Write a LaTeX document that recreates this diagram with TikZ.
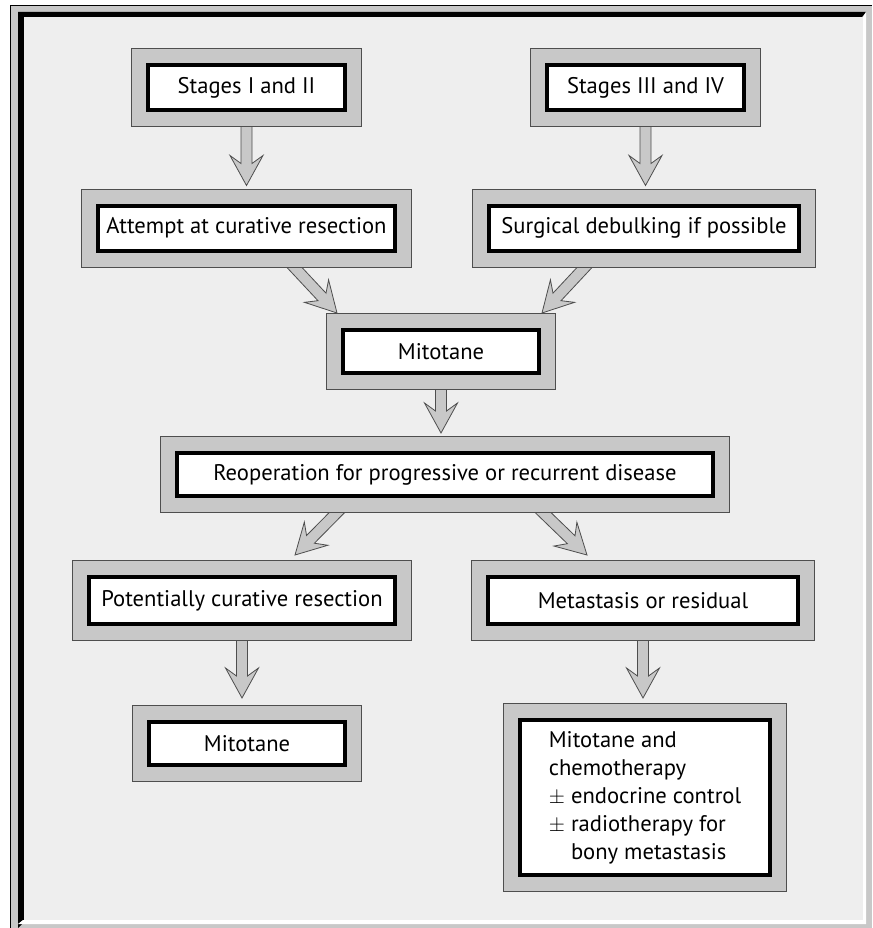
\documentclass[tikz,border=0pt]{standalone}
\usepackage{fontspec}
\usetikzlibrary{calc}
\newfontfamily\boxfont{PT Sans}
\definecolor{panelgray}{HTML}{EEEEEE}
\definecolor{boxgray}{HTML}{C8C8C8}
\definecolor{edgegray}{HTML}{4E4E4E}
\pgfdeclarelayer{back}
\pgfdeclarelayer{arrows}
\pgfsetlayers{back,arrows,main}

% block arrow from #1 to the tip #2
\newcommand{\flowarrow}[2]{%
  \coordinate (fa-s) at ($(#1)!-10pt!(#2)$);
  \coordinate (fa-j) at ($(#2)!22pt!(#1)$);
  \coordinate (fa-w) at ($(#2)!30pt!(#1)$);
  \draw[arrowbody] ($(fa-s)!5.5pt!90:(#2)$) -- ($(fa-j)!5.5pt!-90:(#1)$)
    -- ($(fa-w)!16.5pt!-90:(#1)$) -- (#2) -- ($(fa-w)!16.5pt!90:(#1)$)
    -- ($(fa-j)!5.5pt!90:(#1)$) -- ($(fa-s)!5.5pt!-90:(#2)$) -- cycle;
}

\begin{document}
\begin{tikzpicture}[x=1pt,y=-1pt,
    stagebox/.style={draw=black, line width=4pt, fill=white,
      minimum height=45pt, inner sep=0pt, outer sep=17pt,
      font=\boxfont\fontsize{22.6}{28}\selectfont,
      preaction={draw=edgegray, line width=34pt},
      preaction={draw=boxgray, line width=32pt}},
    arrowbody/.style={draw=edgegray, fill=boxgray, line width=0.8pt, line join=miter}]
  \useasboundingbox (0,0) rectangle (872,928);

  % frame
  \begin{pgfonlayer}{back}
    \fill[white] (0,0) rectangle (872,928);
    \fill[boxgray] (10,6) rectangle (872,928);
    \draw[black, line width=1pt] (10,928) -- (10,6) -- (872,6);
    \fill[black] (18,12) -- (866,12) -- (862,17) -- (24,17) -- (24,922) -- (18,928) -- cycle;
    \fill[white] (866,12) -- (866,924) -- (18,924) -- (23,920) -- (863,920) -- (863,17) -- cycle;
    \fill[panelgray] (24,17) rectangle (863,920);
  \end{pgfonlayer}

  \node[stagebox, minimum width=197pt] (early) at (246.5,87.5) {Stages I and II};
  \node[stagebox, minimum width=197pt] (late) at (645.5,87.5) {Stages III and IV};
  \node[stagebox, minimum width=297pt] (curative) at (246.5,228) {Attempt at curative resection};
  \node[stagebox, minimum width=310pt] (debulk) at (644,228) {Surgical debulking if possible};
  \node[stagebox, minimum width=196pt, minimum height=43pt] (mitoA) at (441,351.5) {Mitotane};
  \node[stagebox, minimum width=536pt, minimum height=43pt] (reop) at (445,474.5)
    {Reoperation for progressive or recurrent disease};
  \node[stagebox, minimum width=306pt, minimum height=47pt] (potential) at (242,600.5)
    {Potentially curative resection};
  \node[stagebox, minimum width=310pt, minimum height=47pt] (residual) at (643,600.5)
    {Metastasis or residual};
  \node[stagebox, minimum width=196pt, minimum height=43pt] (mitoB) at (247,743.5) {Mitotane};
  \node[stagebox, minimum width=250pt, minimum height=155pt, align=left] (combined) at (645,797.5)
    {Mitotane and\\chemotherapy\\$\pm$ endocrine control\\$\pm$ radiotherapy for\\\phantom{$\pm$ }bony metastasis};

  % arrow ends
  \coordinate (earlytip) at ($(early.south |- curative.north)+(0,-3)$);
  \coordinate (latetip) at ($(late.south |- debulk.north)+(0,-3)$);
  \coordinate (curtail) at ($(curative.south)+(48,0)$);
  \coordinate (curtip) at ($(mitoA.north west)+(11,0)$);
  \coordinate (debtail) at ($(debulk.south)+(-59.5,0)$);
  \coordinate (debtip) at ($(mitoA.north east)+(-14,0)$);
  \coordinate (mitotip) at ($(mitoA.south |- reop.north)+(0,-3)$);
  \coordinate (reoptailL) at ($(reop.south)+(-108.5,0)$);
  \coordinate (reoptipL) at ($(potential.north)+(53,-5)$);
  \coordinate (reoptailR) at ($(reop.south)+(98.5,0)$);
  \coordinate (reoptipR) at ($(residual.north)+(-56,-5)$);
  \coordinate (pottip) at ($(potential.south |- mitoB.north)+(0,-7)$);
  \coordinate (restip) at ($(residual.south |- combined.north)+(0,-5)$);

  \begin{pgfonlayer}{arrows}
    \flowarrow{early.south}{earlytip}
    \flowarrow{late.south}{latetip}
    \flowarrow{curtail}{curtip}
    \flowarrow{debtail}{debtip}
    \flowarrow{mitoA.south}{mitotip}
    \flowarrow{reoptailL}{reoptipL}
    \flowarrow{reoptailR}{reoptipR}
    \flowarrow{potential.south}{pottip}
    \flowarrow{residual.south}{restip}
  \end{pgfonlayer}
\end{tikzpicture}
\end{document}
